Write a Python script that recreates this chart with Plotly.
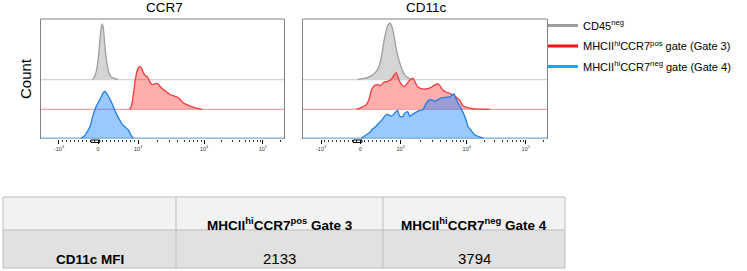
import math
import plotly.graph_objects as go

W, H = 747, 271

# ---------------- data (x in display units of the biexponential axis, y = relative count) ----------------
ccr7_cd45neg_x = [-0.15, -0.10, -0.05, 0.0, 0.04, 0.08, 0.10, 0.13, 0.16, 0.20, 0.25, 0.30, 0.38, 0.50]
ccr7_cd45neg_y = [0, 2, 8, 20, 38, 53, 56, 52, 38, 22, 10, 4, 1.5, 0]

ccr7_gate3_x = [0.78, 0.83, 0.88, 0.93, 0.98, 1.03, 1.08, 1.13, 1.18, 1.23, 1.28, 1.33, 1.38, 1.43, 1.48,
                1.53, 1.58, 1.63, 1.68, 1.73, 1.78, 1.83, 1.90, 1.98, 2.03, 2.08, 2.13, 2.20, 2.30, 2.43, 2.60]
ccr7_gate3_y = [0, 3, 15, 30, 40, 43, 42, 37, 34, 33, 29, 25.5, 25, 26, 26,
                24, 22, 20, 18.5, 17, 15.5, 14.5, 13.5, 12.5, 11, 8.5, 6.7, 5, 3.3, 1.5, 0]

ccr7_gate4_x = [-0.43, -0.35, -0.28, -0.20, -0.13, -0.05, 0.03, 0.08, 0.13, 0.18, 0.23, 0.30, 0.38, 0.45,
                0.53, 0.60, 0.68, 0.75, 0.80, 0.85, 0.88]
ccr7_gate4_y = [0, 2, 6, 12, 23, 32, 38, 42, 46, 47, 44, 39, 32, 25, 19, 14, 11, 8.5, 5, 1, 0]

cd11c_cd45neg_x = [-0.08, 0.05, 0.18, 0.30, 0.40, 0.48, 0.53, 0.58, 0.63, 0.68, 0.73, 0.78, 0.83, 0.88,
                   0.93, 0.98, 1.03, 1.10, 1.18, 1.28]
cd11c_cd45neg_y = [0, 1, 2, 4.5, 8.5, 15, 25, 37, 47, 54, 57, 54, 46, 34, 24, 17, 11, 5, 2, 0]

cd11c_gate3_x = [-0.10, 0.03, 0.15, 0.23, 0.28, 0.35, 0.43, 0.50, 0.58, 0.65, 0.73, 0.80, 0.89, 0.98,
                 1.05, 1.10, 1.18, 1.25, 1.31, 1.38, 1.43, 1.48, 1.58, 1.68, 1.75, 1.83, 1.93, 2.00,
                 2.05, 2.13, 2.23, 2.30, 2.40, 2.48, 2.55, 2.65, 2.80, 2.98, 3.23]
cd11c_gate3_y = [0, 2, 5, 12, 20, 24, 25, 24, 27, 28, 29, 32, 37, 28,
                 24, 23, 27, 30, 31.5, 26, 22.5, 21.5, 20.5, 21, 22, 24, 26, 23,
                 19.5, 17.5, 16, 15, 12, 9, 4, 2, 0.7, 0.3, 0]

cd11c_gate4_x = [0.02, 0.13, 0.23, 0.30, 0.39, 0.48, 0.55, 0.60, 0.66, 0.73, 0.77, 0.83, 0.89, 0.93,
                 0.98, 1.06, 1.10, 1.18, 1.23, 1.30, 1.39, 1.48, 1.56, 1.64, 1.73, 1.80, 1.85, 1.93,
                 2.02, 2.10, 2.23, 2.33, 2.39, 2.43, 2.52, 2.60, 2.64, 2.68, 2.77, 2.83, 2.94, 3.06]
cd11c_gate4_y = [0, 3, 5.7, 9, 12, 16, 19, 22, 24, 23, 22, 24, 27, 28,
                 22, 21.7, 25, 26.7, 22, 24, 26.3, 28, 29, 35, 39, 38, 37.3, 38.5,
                 40.7, 41, 41.7, 44.7, 39, 35.7, 29, 22, 17.3, 12, 7.3, 4, 1.7, 0]

panel_titles = ["CCR7", "CD11c"]
series_names = ["CD45<sup>neg</sup>",
                "MHCII<sup>hi</sup>CCR7<sup>pos</sup> gate (Gate 3)",
                "MHCII<sup>hi</sup>CCR7<sup>neg</sup> gate (Gate 4)"]

# axis ticks (biexponential display positions)
tick_vals = [-0.98, 0.0, 1.0, 2.65, 4.12]
tick_text = ["-10<sup>3</sup>", "0", "10<sup>3</sup>", "10<sup>4</sup>", "10<sup>5</sup>"]

# table content
table_header = ["", "MHCII<sup>hi</sup>CCR7<sup>pos</sup> Gate 3", "MHCII<sup>hi</sup>CCR7<sup>neg</sup> Gate 4"]
table_row_labels = ["CD11c MFI"]
table_gate3 = ["2133"]
table_gate4 = ["3794"]

# ---------------- styling / layout ----------------
LINE_COLORS = ["#9e9e9e", "#f23a3a", "#1f7ee6"]
FILL_COLORS = ["rgba(128,128,128,0.33)", "rgba(255,0,0,0.32)", "rgba(30,136,255,0.45)"]
BASE_COLORS = ["#d2d2d2", "#f2a3a3", "#7aa8dc"]
LEGEND_COLORS = ["#9e9e9e", "#ff1010", "#19a6f5"]
OFFSETS = [59, 29, 0]
XR = [-1.43, 4.65]
DOMS = [[41 / W, 284 / W], [303 / W, 547 / W]]
YDOM = [1 - 139 / H, 1 - 19 / H]

# table grid in pixels
COL_EDGES = [3, 176, 383, 565]
ROW_EDGES = [197, 230, 268]
ROW_FILLS = ["#f2f2f2", "#e1e1e1"]
ROW_TEXT_LIFT = [-5, -1]
GRID = "#bdbdbd"

# minor ticks
minor = []
for k in range(1, 10):
    minor.append(-0.98 * k / 10)
    minor.append(1.0 * k / 10)
for a, b in [(1.0, 2.65), (2.65, 4.12), (4.12, 4.12 + 1.47)]:
    for m in range(2, 10):
        v = a + (b - a) * math.log10(m)
        if v < XR[1]:
            minor.append(v)

fig = go.Figure()

panels = [
    ("x", "y", [(ccr7_cd45neg_x, ccr7_cd45neg_y), (ccr7_gate3_x, ccr7_gate3_y), (ccr7_gate4_x, ccr7_gate4_y)]),
    ("x2", "y2", [(cd11c_cd45neg_x, cd11c_cd45neg_y), (cd11c_gate3_x, cd11c_gate3_y), (cd11c_gate4_x, cd11c_gate4_y)]),
]

for xa, ya, series in panels:
    for i, (xs, ys) in enumerate(series):
        off = OFFSETS[i]
        fig.add_trace(go.Scatter(x=XR, y=[off, off], mode="lines", xaxis=xa, yaxis=ya,
                                 line=dict(color=BASE_COLORS[i], width=1.3),
                                 showlegend=False, hoverinfo="skip"))
        fig.add_trace(go.Scatter(x=xs, y=[off + v for v in ys], mode="lines", xaxis=xa, yaxis=ya,
                                 line=dict(color=LINE_COLORS[i], width=1.3, shape="spline", smoothing=0.6),
                                 fill="tonexty", fillcolor=FILL_COLORS[i],
                                 name=series_names[i], showlegend=False))

for i, nm in enumerate(series_names):
    fig.add_trace(go.Scatter(x=[None], y=[None], mode="lines", xaxis="x", yaxis="y",
                             line=dict(color=LEGEND_COLORS[i], width=3), name=nm,
                             legendgroup=str(i), showlegend=True))

axcommon = dict(range=XR, showgrid=False, zeroline=False, showline=False,
                tickmode="array", tickvals=tick_vals, ticktext=tick_text,
                ticks="outside", ticklen=4, tickwidth=1, tickcolor="#000",
                tickfont=dict(size=5.5, color="#333", family="Liberation Sans, Arial"),
                minor=dict(tickmode="array", tickvals=minor, ticks="outside", ticklen=2,
                           tickwidth=1, tickcolor="#333"))
ycommon = dict(range=[-0.8, 120], showgrid=False, zeroline=False, showline=True, mirror=True,
               linecolor="#808080", linewidth=1, showticklabels=False, ticks="")

fig.update_layout(
    width=W, height=H, margin=dict(l=0, r=0, t=0, b=0),
    paper_bgcolor="white", plot_bgcolor="white",
    font=dict(family="Liberation Sans, Arial, sans-serif", color="#000"),
    xaxis=dict(domain=DOMS[0], anchor="y", **axcommon),
    xaxis2=dict(domain=DOMS[1], anchor="y2", **axcommon),
    yaxis=dict(domain=YDOM, anchor="x", title=dict(text="Count", font=dict(size=15), standoff=4), **ycommon),
    yaxis2=dict(domain=YDOM, anchor="x2", **ycommon),
    legend=dict(x=543 / W, y=1 - 11 / H, xanchor="left", yanchor="top",
                font=dict(size=11, color="#000"), tracegroupgap=1.5, bgcolor="rgba(0,0,0,0)"),
    showlegend=True,
)

# top frame line of each histogram panel
for xr, yr in [("x domain", "y domain"), ("x2 domain", "y2 domain")]:
    fig.add_shape(type="line", xref=xr, yref=yr, x0=0, x1=1, y0=1, y1=1,
                  line=dict(color="#808080", width=1))

# small zero-region bracket under each axis
for dom in DOMS:
    def to_paper(u, d=dom):
        return d[0] + (u - XR[0]) / (XR[1] - XR[0]) * (d[1] - d[0])
    fig.add_shape(type="rect", xref="paper", yref="paper",
                  x0=to_paper(-0.18), x1=to_paper(0.04), y0=YDOM[0] - 3.5 / H, y1=YDOM[0] - 1 / H,
                  line=dict(color="#000", width=1))

for t, dom in zip(panel_titles, DOMS):
    fig.add_annotation(text=t, xref="paper", yref="paper", x=(dom[0] + dom[1]) / 2 + 1.5 / W,
                       y=1 - 7.5 / H, showarrow=False, xanchor="center", yanchor="middle",
                       font=dict(size=13.5, color="#000"))

# ---------------- table (cell fills, grid lines and cell texts) ----------------
px = lambda v: v / W
py = lambda v: 1 - v / H
for r in range(len(ROW_EDGES) - 1):
    fig.add_shape(type="rect", xref="paper", yref="paper", layer="below",
                  x0=px(COL_EDGES[0]), x1=px(COL_EDGES[-1]), y0=py(ROW_EDGES[r + 1]), y1=py(ROW_EDGES[r]),
                  fillcolor=ROW_FILLS[r], line=dict(width=0))
for yv in ROW_EDGES:
    fig.add_shape(type="line", xref="paper", yref="paper", x0=px(COL_EDGES[0]), x1=px(COL_EDGES[-1]),
                  y0=py(yv), y1=py(yv), line=dict(color=GRID, width=1))
for xv in COL_EDGES:
    fig.add_shape(type="line", xref="paper", yref="paper", x0=px(xv), x1=px(xv),
                  y0=py(ROW_EDGES[-1]), y1=py(ROW_EDGES[0]), line=dict(color=GRID, width=1))

def cell_text(text, col, row, bold, size):
    cx = (COL_EDGES[col] + COL_EDGES[col + 1]) / 2
    bottom = ROW_EDGES[row + 1] - ROW_TEXT_LIFT[row]
    fig.add_annotation(text=("<b>%s</b>" % text) if bold else text, xref="paper", yref="paper",
                       x=px(cx), y=py(bottom), xanchor="center", yanchor="bottom",
                       showarrow=False, font=dict(size=size, color="#000"))

for c, h in enumerate(table_header):
    if h:
        cell_text(h, c, 0, True, 13.5)
for r, lab in enumerate(table_row_labels):
    cell_text(lab, 0, 1 + r, True, 13.5)
    cell_text(table_gate3[r], 1, 1 + r, False, 15)
    cell_text(table_gate4[r], 2, 1 + r, False, 15)

fig.write_html("out.html", config={"displayModeBar": False},
               post_script="document.body.style.margin='0';")
